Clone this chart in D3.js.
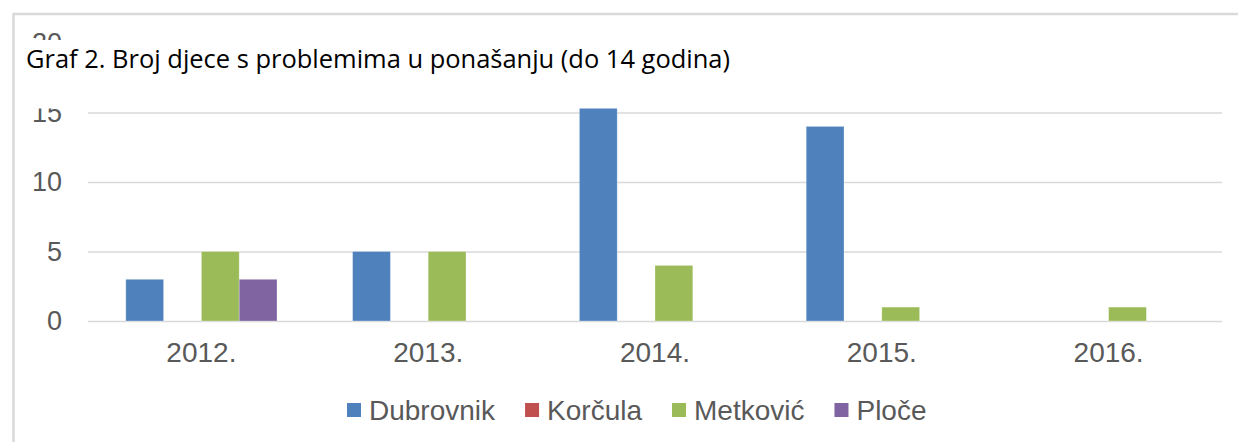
<!DOCTYPE html>
<html>
<head>
<meta charset="utf-8">
<script src="https://cdn.jsdelivr.net/npm/d3@7"></script>
<style>
  html, body { margin: 0; padding: 0; background: #fff; }
  svg { display: block; }
</style>
</head>
<body>
<div id="chart"></div>
<script>
// data
const years = ["2012.", "2013.", "2014.", "2015.", "2016."];
const towns = ["Dubrovnik", "Korčula", "Metković", "Ploče"];
const dubrovnik = [3, 5, 16, 14, 0];
const korcula = [0, 0, 0, 0, 0];
const metkovic = [5, 5, 4, 1, 1];
const ploce = [3, 0, 0, 0, 0];
const yTicks = [0, 5, 10, 15, 20];
const colors = ["#4f81bd", "#c0504d", "#9bbb59", "#8064a2"];
const titleText = "Graf 2. Broj djece s problemima u ponašanju (do 14 godina)";

const seriesValues = [dubrovnik, korcula, metkovic, ploce];
const rows = years.map((y, i) => ({year: y, values: towns.map((t, j) => ({town: t, value: seriesValues[j][i], color: colors[j]}))}));

const W = 1238, H = 442;
const plot = {left: 88, right: 1222, top: 43, bottom: 321};

const svg = d3.select("#chart").append("svg")
    .attr("width", W)
    .attr("height", H);

const x0 = d3.scaleBand().domain(years).range([plot.left, plot.right]).padding(0);
const x1 = d3.scaleBand().domain(towns).range([0, x0.bandwidth()]).paddingInner(0).paddingOuter(1);
const y = d3.scaleLinear().domain([0, 20]).range([plot.bottom, plot.top]);

// grid lines
svg.append("g")
    .attr("transform", `translate(${plot.left},0)`)
    .call(d3.axisLeft(y).tickValues(yTicks).tickSize(-(plot.right - plot.left)).tickFormat(""))
    .call(g => g.select(".domain").remove())
    .selectAll("line")
        .attr("stroke", "#d9d9d9")
        .attr("stroke-width", 1.6);

// y labels
svg.append("g")
    .attr("transform", `translate(62,0)`)
    .call(d3.axisLeft(y).tickValues(yTicks).tickSize(0).tickPadding(0))
    .call(g => g.select(".domain").remove())
    .selectAll("text")
        .attr("fill", "#595959")
        .style("font-family", "'Liberation Sans', Arial, sans-serif")
        .style("font-size", "27px");

// bars
const groups = svg.append("g").selectAll("g")
    .data(rows)
    .enter().append("g")
    .attr("transform", d => `translate(${x0(d.year)},0)`);
groups.selectAll("rect")
    .data(d => d.values.filter(v => v.value > 0))
    .enter().append("rect")
    .attr("x", d => x1(d.town))
    .attr("width", x1.bandwidth())
    .attr("y", d => y(d.value))
    .attr("height", d => y(0) - y(d.value))
    .attr("fill", d => d.color)
    .attr("stroke", "#ffffff")
    .attr("stroke-opacity", 0.35)
    .attr("stroke-width", 0.8);

// x labels
svg.append("g")
    .attr("transform", `translate(0,${plot.bottom})`)
    .call(d3.axisBottom(x0).tickSize(0).tickPadding(21))
    .call(g => g.select(".domain").remove())
    .selectAll("text")
        .attr("fill", "#595959")
        .style("font-family", "'Liberation Sans', Arial, sans-serif")
        .style("font-size", "28px");

// legend
const legend = svg.append("g").attr("transform", "translate(0,410)");
let lx = 347;
towns.forEach((t, i) => {
    legend.append("rect")
        .attr("x", lx).attr("y", -7)
        .attr("width", 14).attr("height", 14)
        .attr("fill", colors[i]);
    const txt = legend.append("text")
        .attr("x", lx + 22).attr("y", 10)
        .attr("fill", "#595959")
        .style("font-family", "'Liberation Sans', Arial, sans-serif")
        .style("font-size", "28px")
        .text(t);
    lx += 22 + txt.node().getComputedTextLength() + 30;
});

// title sits on a white box that hides the top of the plot
svg.append("rect")
    .attr("x", 15).attr("y", 40)
    .attr("width", W).attr("height", 68.5)
    .attr("fill", "#ffffff");
svg.append("text")
    .attr("x", 26).attr("y", 68)
    .attr("fill", "#000")
    .style("font-family", "'Open Sans', sans-serif")
    .style("font-size", "25px")
    .attr("textLength", 704)
    .attr("lengthAdjust", "spacingAndGlyphs")
    .text(titleText);

// frame
svg.append("rect")
    .attr("x", 13.5).attr("y", 14)
    .attr("width", W + 20).attr("height", H + 20)
    .attr("fill", "none")
    .attr("stroke", "#d9d9d9")
    .attr("stroke-width", 2.5);
</script>
</body>
</html>
